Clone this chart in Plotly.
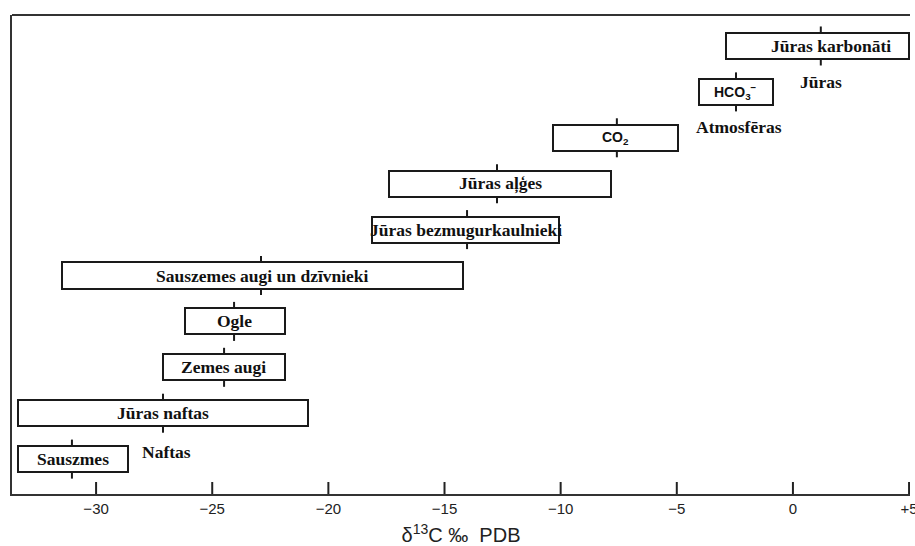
import plotly.graph_objects as go

# δ13C ranges (‰ PDB) of carbon reservoirs, top row first
labels = [
    "Jūras karbonāti",
    "HCO<sub>3</sub><sup>−</sup>",
    "CO<sub>2</sub>",
    "Jūras aļģes",
    "Jūras bezmugurkaulnieki",
    "Sauszemes augi un dzīvnieki",
    "Ogle",
    "Zemes augi",
    "Jūras naftas",
    "Sauszmes",
]
low = [-2.9, -4.05, -10.33, -17.39, -18.12, -31.47, -26.17, -27.12, -33.36, -33.36]
high = [5.0, -0.86, -4.95, -7.83, -10.07, -14.21, -21.87, -21.87, -20.88, -28.63]
typical = [1.2, -2.45, -7.58, -12.74, -14.03, -22.9, -24.06, -24.49, -27.12, -31.04]

# group captions: (text, x value, row position)
groups = [("Jūras", 1.2, 0.78), ("Atmosfēras", -2.32, 1.76), ("Naftas", -26.95, 8.85)]

tick_vals = [-30, -25, -20, -15, -10, -5, 0, 5]
tick_text = ["−30", "−25", "−20", "−15", "−10", "−5", "0", "+5"]

rows = list(range(len(labels)))
bar_h = 0.57
stub = 0.14
y_top, y_bottom = -0.675, 9.76

fig = go.Figure()

fig.add_trace(go.Bar(
    y=rows,
    x=[h - l for l, h in zip(low, high)],
    base=low,
    orientation="h",
    width=bar_h,
    marker=dict(color="white", line=dict(color="#1a1a1a", width=2)),
    hoverinfo="skip",
    showlegend=False,
))

# short marks at the typical value, above and below each box
tx, ty = [], []
for r, m in zip(rows, typical):
    tx += [m, m, None, m, m, None]
    ty += [r - bar_h / 2 - stub, r - bar_h / 2, None, r + bar_h / 2, r + bar_h / 2 + stub, None]
fig.add_trace(go.Scatter(
    x=tx, y=ty, mode="lines",
    line=dict(color="#1a1a1a", width=2),
    hoverinfo="skip", showlegend=False,
))

serif = dict(family="Liberation Serif", size=17.5, color="#111111")
sans = dict(family="Liberation Sans", size=14, color="#111111")
label_shift = {0: 14}

annotations = []
for i, (lab, l, h) in enumerate(zip(labels, low, high)):
    is_formula = lab.startswith("HCO") or lab.startswith("CO")
    annotations.append(dict(
        x=(l + h) / 2, y=i, xref="x", yref="y",
        xshift=label_shift.get(i, 0),
        text=f"<b>{lab}</b>",
        showarrow=False,
        font=sans if is_formula else serif,
        xanchor="center", yanchor="middle",
    ))
for txt, gx, gy in groups:
    annotations.append(dict(
        x=gx, y=gy, xref="x", yref="y", text=f"<b>{txt}</b>",
        showarrow=False, font=serif, xanchor="center", yanchor="middle",
    ))

# frame top edge plus upward tick marks on the value axis
shapes = [dict(type="line", xref="paper", yref="paper", x0=0, x1=1, y0=1, y1=1,
               line=dict(color="#333333", width=2))]
for v in tick_vals:
    shapes.append(dict(type="line", xref="x", yref="paper", x0=v, x1=v, y0=0, y1=12 / 479,
                       layer="above", line=dict(color="#222222", width=2)))

fig.update_layout(
    width=915, height=546,
    margin=dict(l=12, r=5, t=15, b=52),
    paper_bgcolor="white", plot_bgcolor="white",
    bargap=0,
    annotations=annotations,
    shapes=shapes,
    xaxis=dict(
        range=[-33.62, 5.04],
        automargin=False,
        tickvals=tick_vals, ticktext=tick_text,
        ticks="", ticklabeloverflow="allow",
        showline=True, linecolor="#333333", linewidth=2,
        showgrid=False, zeroline=False,
        tickfont=dict(family="Liberation Sans", size=15, color="#222222"),
        title=dict(text="δ<sup>13</sup>C\u00a0‰\u00a0\u00a0PDB", standoff=15,
                   font=dict(family="Liberation Sans", size=20, color="#222222")),
    ),
    yaxis=dict(
        range=[y_bottom, y_top],
        automargin=False,
        showticklabels=False, ticks="",
        showline=True, linecolor="#333333", linewidth=2,
        showgrid=False, zeroline=False,
    ),
)

fig.write_html("out.html")
